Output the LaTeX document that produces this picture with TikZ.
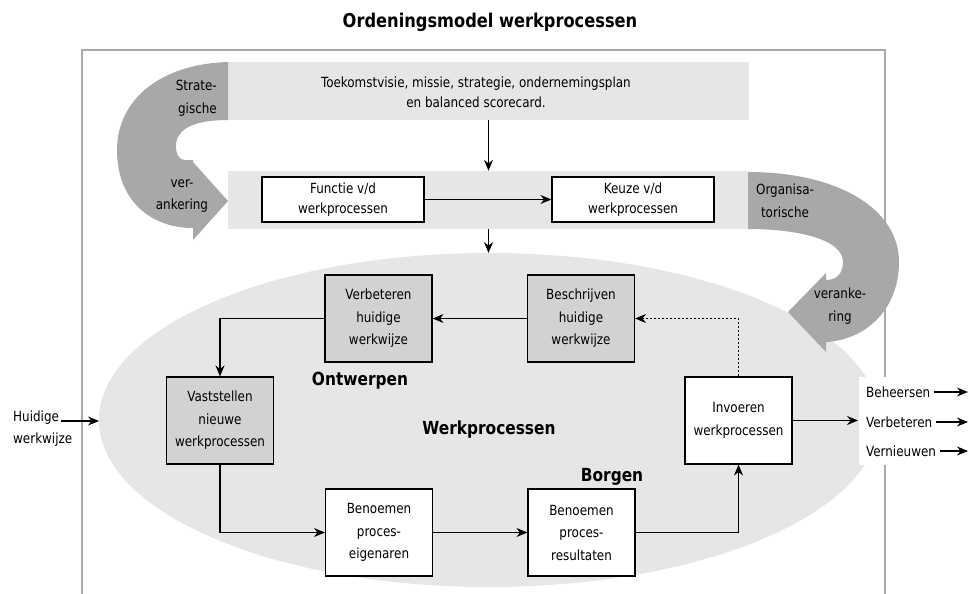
\documentclass[tikz,border=0pt]{standalone}
\usepackage{fontspec}
\setmainfont{DejaVu Sans Condensed}[FakeStretch=0.95]
\usepackage{xcolor}
\usepackage{tikz}
\usetikzlibrary{arrows.meta}

\definecolor{bandgray}{HTML}{E6E6E8}
\definecolor{arrowgray}{HTML}{A7A8AA}
\definecolor{boxgray}{HTML}{D2D2D3}
\definecolor{framegray}{HTML}{A9A9A9}

\begin{document}
\begin{tikzpicture}[x=1pt, y=-1pt,
    txt/.style={font=\fontsize{14}{22.5}\selectfont, align=center, inner sep=0pt},
    band/.style={fill=bandgray, inner sep=0pt, minimum width=521pt, minimum height=58pt},
    procbox/.style={txt, draw=black, line width=1.1pt, minimum width=107pt, minimum height=87pt},
    topbox/.style={txt, draw=black, line width=1.1pt, fill=white, minimum width=162pt,
        minimum height=45pt, font=\fontsize{14}{20}\selectfont},
    phase/.style={font=\bfseries\fontsize{18}{18}\selectfont, inner sep=0pt},
    flow/.style={-{Stealth[length=11pt, width=9pt]}, line width=1.1pt}]
    \useasboundingbox (0,0) rectangle (969,594);

    \node[font=\bfseries\fontsize{19}{20}\selectfont] (title) at (490,22) {Ordeningsmodel werkprocessen};
    \draw[framegray, line width=1.5pt] (82,594) -- (82,50) -- (885,50) -- (885,594);

    % Visie and keuze bands
    \node[band] (visieband) at (488.5,91) {};
    \node[txt, font=\fontsize{14}{20}\selectfont] (visie) at (476,92)
        {Toekomstvisie, missie, strategie, ondernemingsplan\\en balanced scorecard.};
    \node[band] (keuzeband) at (488.5,200) {};
    \fill[bandgray] (489,420) ellipse [x radius=390pt, y radius=167pt];

    % Strategische verankering
    \fill[arrowgray] (228,62) .. controls (160,64) and (117,100) .. (117,150)
        .. controls (117,200) and (150,228) .. (193,228) -- (193,240) -- (228,201)
        -- (193,162) -- (193,160) -- (186,160) .. controls (177,160) and (176,152) .. (176,146)
        .. controls (176,128) and (196,120) .. (228,120) -- cycle;
    \node[txt, align=right, anchor=east] (strat) at (217,98.5) {Strate-\\gische};
    \node[txt] (veranker1) at (182,196) {ver-\\ankering};

    % Organisatorische verankering
    \fill[arrowgray] (748,172) .. controls (840,172) and (899,210) .. (899,262)
        .. controls (899,310) and (865,340) .. (826,342) -- (826,352) -- (788,312)
        -- (826,273) -- (826,280) .. controls (838,280) and (843,272) .. (843,262)
        .. controls (843,240) and (800,229) .. (748,229) -- cycle;
    \node[txt] (organ) at (785,201) {Organisa-\\torische};
    \node[txt] (veranker2) at (840,306) {veranke-\\ring};

    \fill[white] (859,377) rectangle (969,465);

    % Top boxes
    \node[topbox] (functie) at (343,199.5) {Functie v/d\\werkprocessen};
    \node[topbox] (keuze) at (633,199.5) {Keuze v/d\\werkprocessen};

    % Werkprocessen
    \node[procbox, fill=boxgray] (verbeteren) at (378.5,318.5) {Verbeteren\\huidige\\werkwijze};
    \node[procbox, fill=boxgray] (beschrijven) at (581,318.5) {Beschrijven\\huidige\\werkwijze};
    \node[procbox, fill=boxgray] (vaststellen) at (220,420.5) {Vaststellen\\nieuwe\\werkprocessen};
    \node[procbox, fill=white] (invoeren) at (738.5,420.5) {Invoeren\\werkprocessen};
    \node[procbox, fill=white] (eigenaren) at (379,532.5) {Benoemen\\proces-\\eigenaren};
    \node[procbox, fill=white] (resultaten) at (581.5,532.5) {Benoemen\\proces-\\resultaten};

    \node[phase] (ontwerpen) at (360,381) {Ontwerpen};
    \node[phase] (werkproc) at (489,430) {Werkprocessen};
    \node[phase] (borgen) at (612,477) {Borgen};

    % Connectors
    \coordinate (elltop) at (488.5,253);
    \coordinate (ellwest) at (99,421);
    \coordinate (outin) at (858,420.5);
    \draw[flow] (visieband.south) -- (keuzeband.north);
    \draw[flow] (keuzeband.south) -- (elltop);
    \draw[flow] (functie) -- (keuze);
    \draw[flow] (beschrijven) -- (verbeteren);
    \draw[flow] (verbeteren.west) -| (vaststellen.north);
    \draw[flow] (vaststellen.south) |- (eigenaren.west);
    \draw[flow] (eigenaren) -- (resultaten);
    \draw[flow] (resultaten.east) -| (invoeren.south);
    \draw[flow] (invoeren) -- (outin);
    \draw[flow, line width=0.9pt, dash pattern=on 2pt off 2pt] (invoeren.north) |- (beschrijven.east);

    % Huidige werkwijze in
    \node[txt, anchor=base west] (huidige) at (13,421) {Huidige};
    \node[txt, anchor=base west] (werkwijze) at (13,443) {werkwijze};
    \draw[flow] (huidige.base east) ++(2,0) -- (ellwest);

    % Uitkomsten
    \foreach \name/\y in {Beheersen/392, Verbeteren/422, Vernieuwen/451} {
        \node[txt, anchor=west] (out\name) at (866,\y) {\name};
        \coordinate (end\name) at (968,\y);
        \draw[flow] (out\name.east) ++(4,0) -- (end\name);
    }
\end{tikzpicture}
\end{document}
